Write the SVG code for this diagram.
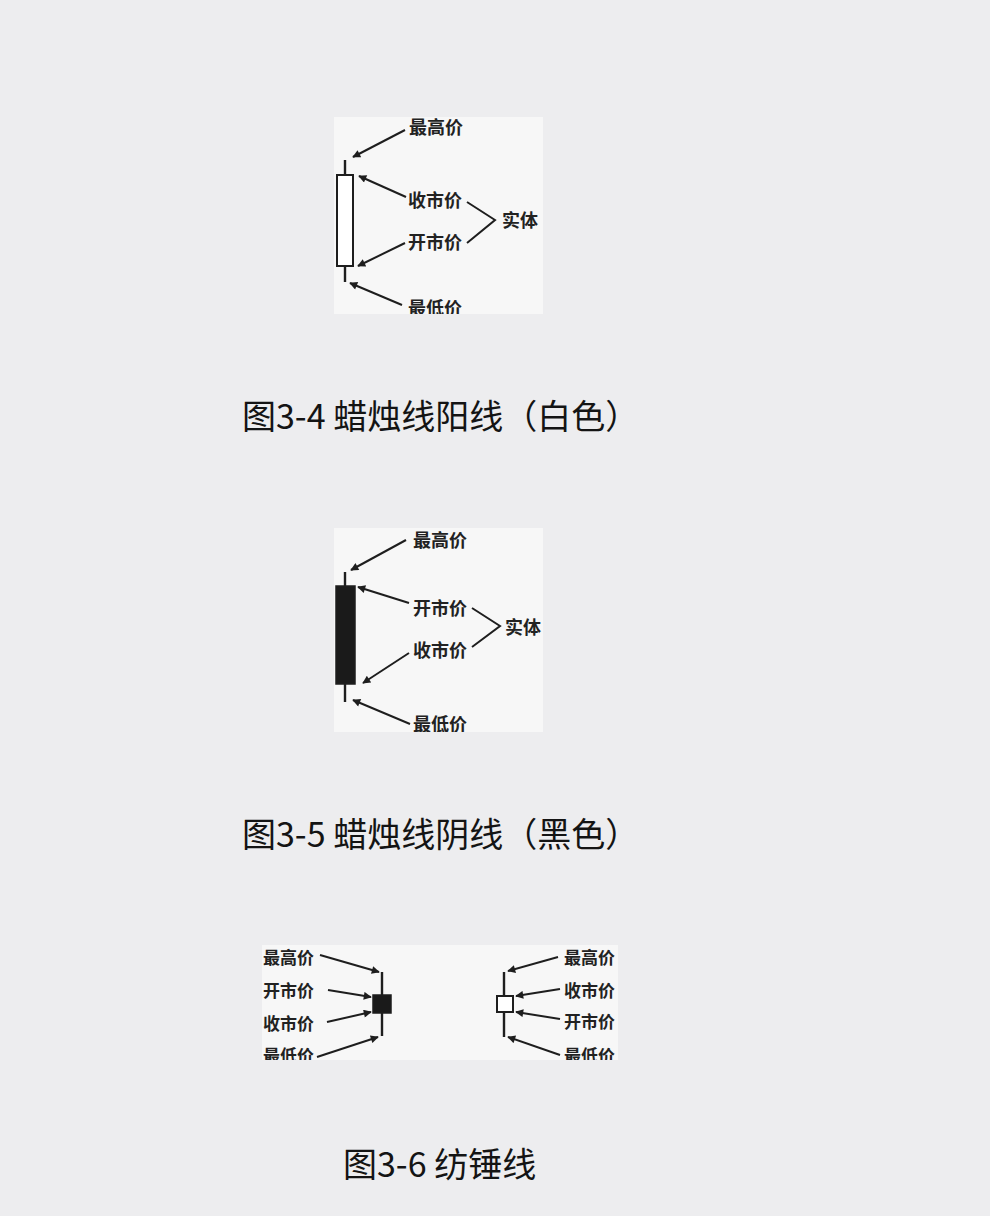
<svg xmlns="http://www.w3.org/2000/svg" width="990" height="1216" viewBox="0 0 990 1216">
<style>
.bg{fill:#ededef}
.panel{fill:#f7f7f7}
.lbl{font-family:"Noto Sans CJK SC",sans-serif;font-size:18px;font-weight:bold;fill:#222}
.lbl3{font-family:"Noto Sans CJK SC",sans-serif;font-size:17px;font-weight:bold;fill:#222}
.cap{font-family:"Noto Sans CJK SC",sans-serif;font-size:34px;fill:#141414}
.ln{stroke:#1e1e1e;stroke-width:2;fill:none}
.arr{stroke:#1e1e1e;stroke-width:2;fill:none;marker-end:url(#ah)}
.wick{stroke:#1e1e1e;stroke-width:2.4;fill:none}
</style>
<defs>
<marker id="ah" viewBox="0 0 10 10" refX="9" refY="5" markerWidth="11" markerHeight="8" markerUnits="userSpaceOnUse" orient="auto">
<path d="M0,0 L10,5 L0,10 Z" fill="#1e1e1e"/>
</marker>
<clipPath id="c1"><rect x="334" y="117" width="209" height="197"/></clipPath>
<clipPath id="c2"><rect x="334" y="528" width="209" height="204"/></clipPath>
<clipPath id="c3"><rect x="262" y="945" width="356" height="115"/></clipPath>
</defs>
<rect class="bg" x="0" y="0" width="990" height="1216"/>

<g id="fig34" clip-path="url(#c1)">
<rect class="panel" x="334" y="117" width="209" height="197"/>
<g id="candle-white">
<line class="wick" x1="345" y1="160" x2="345" y2="175"/>
<line class="wick" x1="345" y1="266" x2="345" y2="282"/>
<rect x="337" y="175" width="16" height="91" fill="#fff" stroke="#1e1e1e" stroke-width="2"/>
</g>
<g id="labels34">
<text class="lbl" x="409" y="134">最高价</text>
<text class="lbl" x="408" y="207">收市价</text>
<text class="lbl" x="408" y="249">开市价</text>
<text class="lbl" x="408" y="315">最低价</text>
<text class="lbl" x="502" y="227">实体</text>
</g>
<g id="connectors34">
<line class="arr" x1="405" y1="130" x2="353" y2="157"/>
<line class="arr" x1="406" y1="197" x2="359" y2="176"/>
<line class="arr" x1="405" y1="243" x2="358" y2="266"/>
<line class="arr" x1="402" y1="305" x2="350" y2="283"/>
<polyline class="ln" points="467,202 495,220 467,243"/>
</g>
</g>
<text id="cap34" class="cap" x="242" y="429">图3-4 蜡烛线阳线（白色）</text>

<g id="fig35" clip-path="url(#c2)">
<rect class="panel" x="334" y="528" width="209" height="204"/>
<g id="candle-black">
<line class="wick" x1="345" y1="572" x2="345" y2="586"/>
<line class="wick" x1="345" y1="684" x2="345" y2="702"/>
<rect x="336" y="586" width="19" height="98" fill="#1a1a1a" stroke="#1e1e1e" stroke-width="1.5"/>
</g>
<g id="labels35">
<text class="lbl" x="413" y="547">最高价</text>
<text class="lbl" x="413" y="615">开市价</text>
<text class="lbl" x="413" y="657">收市价</text>
<text class="lbl" x="413" y="731">最低价</text>
<text class="lbl" x="505" y="634">实体</text>
</g>
<g id="connectors35">
<line class="arr" x1="406" y1="540" x2="351" y2="570"/>
<line class="arr" x1="409" y1="603" x2="358" y2="587"/>
<line class="arr" x1="409" y1="653" x2="363" y2="683"/>
<line class="arr" x1="410" y1="724" x2="353" y2="700"/>
<polyline class="ln" points="472,608 500,626 472,647"/>
</g>
</g>
<text id="cap35" class="cap" x="242" y="847">图3-5 蜡烛线阴线（黑色）</text>

<g id="fig36" clip-path="url(#c3)">
<rect class="panel" x="262" y="945" width="356" height="115"/>
<g id="spindle-black">
<line class="wick" x1="382" y1="972" x2="382" y2="1036"/>
<rect x="373" y="995" width="18" height="18" fill="#1a1a1a" stroke="#1e1e1e" stroke-width="1.5"/>
</g>
<g id="spindle-white">
<line class="wick" x1="504" y1="972" x2="504" y2="1037"/>
<rect x="497" y="996" width="16" height="16" fill="#fff" stroke="#1e1e1e" stroke-width="2"/>
</g>
<g id="labels36">
<text class="lbl3" x="263" y="964">最高价</text>
<text class="lbl3" x="263" y="997">开市价</text>
<text class="lbl3" x="263" y="1030">收市价</text>
<text class="lbl3" x="263" y="1062">最低价</text>
<text class="lbl3" x="564" y="964">最高价</text>
<text class="lbl3" x="564" y="997">收市价</text>
<text class="lbl3" x="564" y="1028">开市价</text>
<text class="lbl3" x="564" y="1062">最低价</text>
</g>
<g id="connectors36">
<line class="arr" x1="320" y1="955" x2="379" y2="972"/>
<line class="arr" x1="328" y1="990" x2="371" y2="997"/>
<line class="arr" x1="327" y1="1022" x2="371" y2="1012"/>
<line class="arr" x1="317" y1="1057" x2="378" y2="1037"/>
<line class="arr" x1="558" y1="957" x2="508" y2="971"/>
<line class="arr" x1="560" y1="989" x2="516" y2="996"/>
<line class="arr" x1="560" y1="1019" x2="516" y2="1012"/>
<line class="arr" x1="560" y1="1055" x2="508" y2="1037"/>
</g>
</g>
<text id="cap36" class="cap" x="343" y="1177">图3-6 纺锤线</text>
</svg>
